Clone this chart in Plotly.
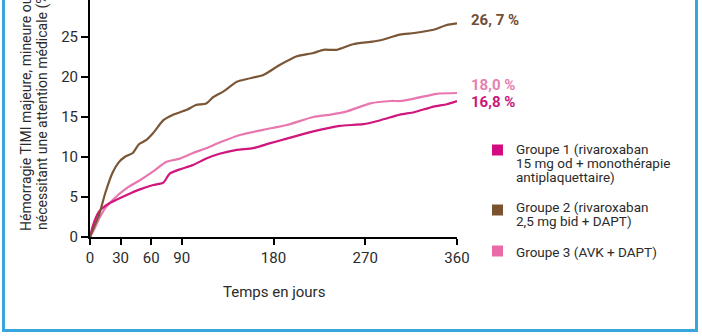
import plotly.graph_objects as go

# ---- data ----
days_g1 = [0, 3, 9, 15, 22, 36, 49, 62, 72, 78, 88, 101, 114, 127, 144, 160, 176, 193, 219, 245, 268, 285, 304, 318, 337, 350, 360]
vals_g1 = [0, 1.5, 3.2, 3.9, 4.4, 5.25, 5.95, 6.5, 6.8, 7.9, 8.45, 9.0, 9.8, 10.4, 10.9, 11.1, 11.7, 12.3, 13.2, 13.9, 14.1, 14.6, 15.3, 15.6, 16.3, 16.6, 17.0]

days_g2 = [0, 5, 9, 15, 22, 28, 34, 42, 48, 55, 62, 72, 81, 95, 104, 114, 121, 131, 144, 154, 170, 186, 203, 219, 229, 242, 258, 275, 285, 304, 318, 337, 350, 360]
vals_g2 = [0, 1.6, 2.8, 5.5, 8.0, 9.3, 10.0, 10.5, 11.6, 12.1, 13.0, 14.6, 15.25, 15.9, 16.5, 16.7, 17.5, 18.2, 19.4, 19.75, 20.25, 21.5, 22.6, 23.0, 23.4, 23.4, 24.1, 24.4, 24.6, 25.3, 25.5, 25.9, 26.5, 26.7]

days_g3 = [0, 5, 9, 15, 22, 36, 49, 62, 75, 88, 101, 114, 127, 147, 170, 193, 219, 236, 252, 275, 295, 304, 318, 340, 360]
vals_g3 = [0, 1.2, 2.3, 3.6, 4.6, 6.1, 7.1, 8.2, 9.4, 9.8, 10.5, 11.1, 11.8, 12.75, 13.4, 14.0, 15.0, 15.3, 15.7, 16.7, 17.0, 17.0, 17.3, 17.9, 18.0]

x_ticks = [0, 30, 60, 90, 180, 270, 360]
y_ticks = [0, 5, 10, 15, 20, 25]
end_labels = ["16,8 %", "26, 7 %", "18,0 %"]
legend_lines = [
    ["Groupe 1 (rivaroxaban", "15 mg od + monothérapie", "antiplaquettaire)"],
    ["Groupe 2 (rivaroxaban", "2,5 mg bid + DAPT)"],
    ["Groupe 3 (AVK + DAPT)"],
]
y_title = ["Hémorragie TIMI majeure, mineure ou", "nécessitant une attention médicale (%)"]
x_title = "Temps en jours"

# ---- styling ----
C1 = "#d0157c"
C2 = "#7a5636"
C3 = "#e877b0"
TXT = "#2b2b2b"
FONT = "Roboto"

W, H = 702, 336
L, R, T, B = 90, 245, 0, 99
PW, PH = W - L - R, H - T - B


def px(x):
    return (x - L) / PW


def py(y):
    return (H - B - y) / PH


fig = go.Figure()
for d, v, c in [(days_g3, vals_g3, C3), (days_g1, vals_g1, C1), (days_g2, vals_g2, C2)]:
    fig.add_trace(go.Scatter(x=d, y=v, mode="lines",
                             line=dict(color=c, width=2.2, shape="spline", smoothing=0.6),
                             hoverinfo="skip", showlegend=False))

ann = []
# end labels
ann.append(dict(x=px(469), y=py(20), text="<b>" + end_labels[1] + "</b>", font=dict(color="#6f4e37", size=15, family=FONT)))
ann.append(dict(x=px(469), y=py(85), text="<b>" + end_labels[2] + "</b>", font=dict(color="#e47fb1", size=15, family=FONT)))
ann.append(dict(x=px(469), y=py(102), text="<b>" + end_labels[0] + "</b>", font=dict(color="#c9177a", size=15, family=FONT)))
# legend text
starts = [149, 207, 252]
for lines, y0 in zip(legend_lines, starts):
    for i, t in enumerate(lines):
        ann.append(dict(x=px(514), y=py(y0 + i * 14), text=t, font=dict(color=TXT, size=13.5, family=FONT)))
for a in ann:
    a.update(xref="paper", yref="paper", xanchor="left", yanchor="middle", showarrow=False)

# y title (rotated, clipped at top as in the reference)
ann.append(dict(x=px(26), y=py(233), xref="paper", yref="paper", text=y_title[0], textangle=-90,
                xanchor="center", yanchor="bottom", showarrow=False, font=dict(color=TXT, size=14, family=FONT)))
ann.append(dict(x=px(42.5), y=py(232), xref="paper", yref="paper", text=y_title[1], textangle=-90,
                xanchor="center", yanchor="bottom", showarrow=False, font=dict(color=TXT, size=14, family=FONT)))
# x title
ann.append(dict(x=px(274), y=py(292), xref="paper", yref="paper", text=x_title,
                xanchor="center", yanchor="middle", showarrow=False, font=dict(color=TXT, size=15, family=FONT)))

shapes = []
# legend squares
for yc, c in [(150, "#d40a80"), (210, "#7c522e"), (251, "#ea6aa8")]:
    shapes.append(dict(type="rect", xref="paper", yref="paper", x0=px(492), x1=px(503),
                       y0=py(yc + 5.5), y1=py(yc - 5.5), fillcolor=c, line=dict(width=0)))
# blue frame
shapes.append(dict(type="rect", xref="paper", yref="paper", x0=px(3.5), x1=px(696.5),
                   y0=py(330.5), y1=py(-20), line=dict(color="#36a6dc", width=3), fillcolor="rgba(0,0,0,0)"))

fig.update_layout(
    width=W, height=H, margin=dict(l=L, r=R, t=T, b=B),
    paper_bgcolor="white", plot_bgcolor="white",
    font=dict(family=FONT, color=TXT),
    annotations=ann, shapes=shapes, showlegend=False,
    xaxis=dict(range=[0, 360], tickvals=x_ticks, ticks="outside", ticklen=6, tickwidth=2,
               tickcolor="black", showline=True, linecolor="black", linewidth=2,
               showgrid=False, zeroline=False, tickfont=dict(size=15, color=TXT, family=FONT)),
    yaxis=dict(range=[0, PH / 8], tickvals=y_ticks, ticks="outside", ticklen=7, tickwidth=2,
               tickcolor="black", showline=True, linecolor="black", linewidth=2,
               showgrid=False, zeroline=False, tickfont=dict(size=15, color=TXT, family=FONT)),
)
fig.write_html("out.html")
